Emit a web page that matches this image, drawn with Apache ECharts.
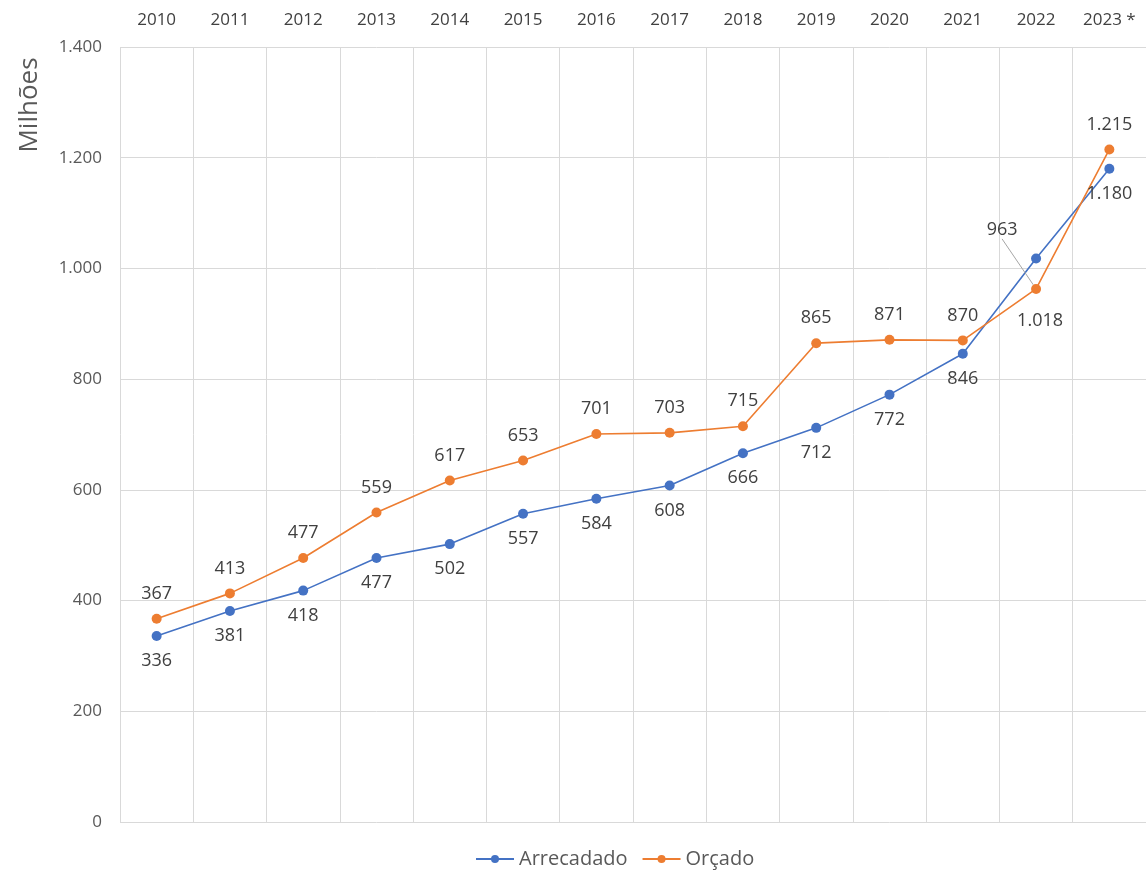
<!DOCTYPE html>
<html><head><meta charset="utf-8">
<script src="https://cdn.jsdelivr.net/npm/echarts@6/dist/echarts.min.js"></script>
<style>html,body{margin:0;padding:0;background:#fff}#c{width:1146px;height:878px}</style>
</head><body><div id="c"></div>
<script>
const years = ['2010','2011','2012','2013','2014','2015','2016','2017','2018','2019','2020','2021','2022','2023 *'];
const arrecadado = [336,381,418,477,502,557,584,608,666,712,772,846,1018,1180];
const orcado = [367,413,477,559,617,653,701,703,715,865,871,870,963,1215];
const yTicks = [0,200,400,600,800,1000,1200,1400];

const fmt = v => {
  const s = String(Math.round(v));
  return s.length > 3 ? s.slice(0, s.length-3) + '.' + s.slice(s.length-3) : s;
};
const font = '"Open Sans", "Noto Sans", sans-serif';
const chart = echarts.init(document.getElementById('c'), null, {renderer:'canvas'});
chart.setOption({
  animation:false,
  backgroundColor:'#fff',
  grid:{left:120,right:0,top:47,bottom:56,containLabel:false},
  legend:{bottom:4,left:470,itemWidth:38,itemHeight:10,itemGap:14,
    textStyle:{color:'#595959',fontSize:20,fontFamily:font},
    data:['Arrecadado','Orçado']},
  graphic:[{type:'text',x:30,y:105,rotation:Math.PI/2,
    style:{text:'Milhões',fill:'#595959',font:'26px '+font,textAlign:'center',textVerticalAlign:'middle'}}],
  xAxis:{type:'category',position:'top',data:years,boundaryGap:true,
    axisLine:{show:false},axisTick:{show:false},
    axisLabel:{color:'#404040',fontSize:17,fontFamily:font,margin:18},
    splitLine:{show:true,lineStyle:{color:'#d9d9d9',width:1}}},
  yAxis:{type:'value',min:0,max:1400,interval:200,
    axisLine:{show:false},axisTick:{show:false},
    axisLabel:{color:'#595959',fontSize:17,fontFamily:font,margin:18,formatter:fmt},
    splitLine:{lineStyle:{color:'#d9d9d9',width:1}}},
  series:[
    {name:'Arrecadado',type:'line',data:arrecadado,symbol:'circle',symbolSize:10,
      itemStyle:{color:'#4472C4'},lineStyle:{color:'#4472C4',width:1.6},
      label:{show:true,position:'bottom',distance:11,color:'#404040',fontSize:18,fontFamily:font,
        formatter:p=>fmt(p.value)},
      labelLayout:p=> p.dataIndex===12 ? {dx:4,dy:37} : {}
    },
    {name:'Orçado',type:'line',
      data:orcado.map((v,i)=> i===12 ? {value:v,labelLine:{show:true}} : v),
      symbol:'circle',symbolSize:10,
      itemStyle:{color:'#ED7D31'},lineStyle:{color:'#ED7D31',width:1.6},
      label:{show:true,position:'top',distance:11,color:'#404040',fontSize:18,fontFamily:font,
        formatter:p=>fmt(p.value)},
      labelLine:{show:false,lineStyle:{color:'#a6a6a6',width:1}},
      labelLayout:p=> p.dataIndex===12 ? {dx:-34,dy:-34} : {}
    }
  ]
});
</script></body></html>
